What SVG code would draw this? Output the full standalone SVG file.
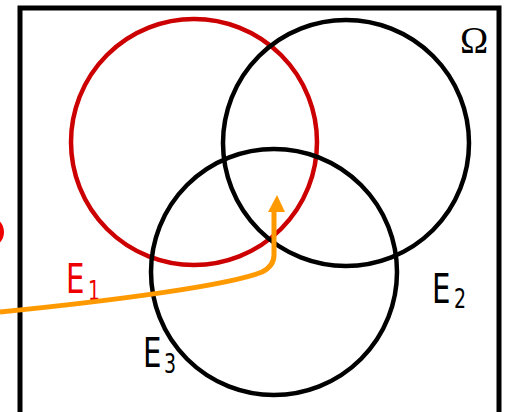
<svg xmlns="http://www.w3.org/2000/svg" width="506" height="412" viewBox="0 0 506 412">
<style>
.set{fill:none;stroke-width:4.5}
.lbl{font-family:"DejaVu Sans",sans-serif;font-size:40px}
.sub{font-family:"DejaVu Sans",sans-serif;font-size:26px}
</style>
<rect x="0" y="0" width="506" height="412" fill="#fff"/>
<g id="omega">
<rect x="20" y="8" width="479" height="420" fill="none" stroke="#000" stroke-width="5"/>
<text x="460" y="53" font-family="Liberation Serif,serif" font-size="38" fill="#000">Ω</text>
</g>
<g id="E1">
<circle class="set" cx="194" cy="142" r="123" stroke="#cc0000"/>
<text class="lbl" transform="translate(66,293) scale(0.73,1)" fill="#ee0000">E</text>
<text class="sub" transform="translate(88,300) scale(0.73,1)" fill="#ee0000">1</text>
</g>
<g id="E2">
<circle class="set" cx="346" cy="143" r="123" stroke="#000"/>
<text class="lbl" transform="translate(432,303) scale(0.73,1)" fill="#000">E</text>
<text class="sub" transform="translate(454,308) scale(0.73,1)" fill="#000">2</text>
</g>
<g id="E3">
<circle class="set" cx="274" cy="272" r="123" stroke="#000"/>
<text class="lbl" transform="translate(143,367) scale(0.73,1)" fill="#000">E</text>
<text class="sub" transform="translate(164,373) scale(0.73,1)" fill="#000">3</text>
</g>
<g id="outside">
<circle cx="-12" cy="232" r="14" fill="none" stroke="#ee0000" stroke-width="4"/>
</g>
<g id="connectors">
<path d="M0,312 C120,300 230,285 262,272 Q274,266 274,255 L274,210" fill="none" stroke="#ff9900" stroke-width="5"/>
<polygon points="277,195 268,212 285,212" fill="#ff9900"/>
</g>
</svg>
